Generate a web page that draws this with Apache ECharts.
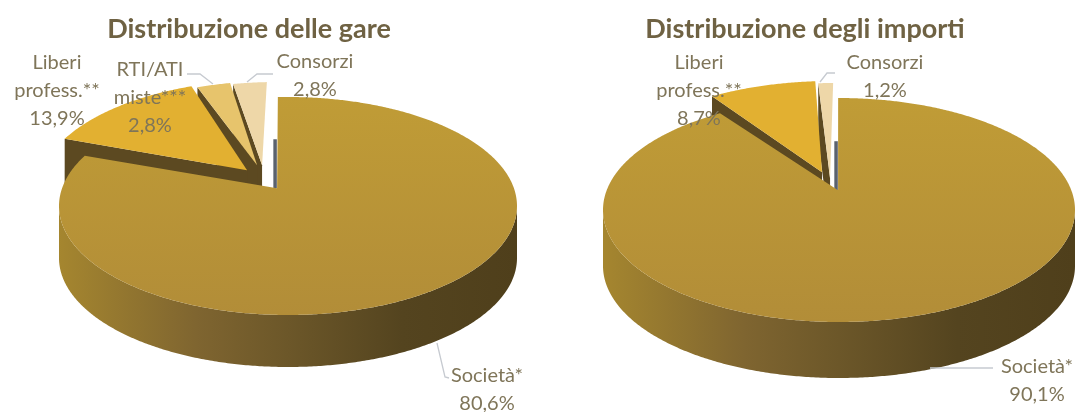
<!DOCTYPE html>
<html><head><meta charset="utf-8">
<style>html,body{margin:0;padding:0;background:#fff;overflow:hidden}#c{width:1077px;height:412px;filter:blur(0.6px)}</style>
<script src="https://cdn.jsdelivr.net/npm/echarts@6/dist/echarts.min.js"></script>
</head><body><div id="c"></div>
<script>
// ---- data ----
const titles = ['Distribuzione delle gare', 'Distribuzione degli importi'];
const categoriesGare = ['Società*', 'Liberi\nprofess.**', 'RTI/ATI\nmiste***', 'Consorzi'];
const valuesGare = [80.6, 13.9, 2.8, 2.8];
const categoriesImporti = ['Società*', 'Liberi\nprofess.**', 'Consorzi'];
const valuesImporti = [90.1, 8.7, 1.2];

// ---- layout and style ----
const fontFamily = 'Lato, "Open Sans", sans-serif';
const textColor = '#7f7559', titleColor = '#6f6243', leaderColor = '#c6cad0';
const wallColor = '#5c4921', notchColor = '#5a626e';
const rimFill = {type:'linear',x:0,y:0,x2:1,y2:0,colorStops:[
  {offset:0,color:'#a5862f'},{offset:.3,color:'#7f6530'},{offset:.5,color:'#6c5729'},
  {offset:.75,color:'#54441f'},{offset:1,color:'#4f3f1b'}]};
const mainFill = {type:'linear',x:0,y:0,x2:0,y2:1,colorStops:[
  {offset:0,color:'#c09c36'},{offset:1,color:'#b28d38'}]};
const pieGare = {
  cx:288, cy:206, rx:229, ry:109, depth:52, tilt:[-0.024,0.082],
  fills:[mainFill,'#e2b031','#e7c46c','#eed7a8'],
  arcShift:[[0,0],[-20,-17],[-14,-16],[-11,-15]],
  apexShift:[[0,0],[-30,-18],[-20,-23],[-15,-23]],
  labels:[[487,390],[57,91],[150,98],[315,76]],
  leaders:[[[437,343],[445,377],[449,378]],null,[[187,74],[200,74],[213,84]],[[273,74],[257,74],[247,82]]],
  names:categoriesGare, values:valuesGare
};
const pieImporti = {
  cx:839, cy:210, rx:236, ry:112, depth:56, tilt:[-0.002,0.089],
  fills:[mainFill,'#e2b031','#eed7a8'],
  arcShift:[[0,0],[-8,-17],[-5,-15]],
  apexShift:[[0,0],[-16,-18],[-8,-12]],
  labels:[[1037,381],[699,91],[885,77]],
  leaders:[[[930,368],[993,368]],null,[[835,73],[827,73],[820,82]]],
  names:categoriesImporti, values:valuesImporti
};

function cmul(a,b){return [a[0]*b[0]-a[1]*b[1],a[0]*b[1]+a[1]*b[0]];}
function cdiv(a,b){const d=b[0]*b[0]+b[1]*b[1];return [(a[0]*b[0]+a[1]*b[1])/d,(a[1]*b[0]-a[0]*b[1])/d];}
// a clockwise-from-top pie angle -> point on the tilted ellipse
function rimPoint(p,deg){
  const t=deg*Math.PI/180, z=[Math.sin(t),Math.cos(t)], a=p.tilt;
  const q=cmul([a[0],-a[1]],z);
  const w=cdiv([z[0]+a[0],z[1]+a[1]],[1+q[0],q[1]]);
  return [p.cx+p.rx*w[0], p.cy-p.ry*w[1]];
}
function centre(p){
  const a=p.tilt, d=1+a[0]*a[0]+a[1]*a[1];
  return [p.cx+p.rx*2*a[0]/d, p.cy-p.ry*2*a[1]/d];
}
function pieSeries(p){
  const total=p.values.reduce((s,v)=>s+v,0);
  return {
    type:'custom', coordinateSystem:'none', silent:true,
    data:p.values.map((v,i)=>({name:p.names[i],value:[v]})),
    renderItem(params,api){
      const i=params.dataIndex, value=api.value(0);
      const before=p.values.slice(0,i).reduce((s,v)=>s+v,0);
      const a0=before/total*360, a1=(before+value)/total*360;
      const as=p.arcShift[i], ps=p.apexShift[i], c=centre(p);
      const apex=[c[0]+ps[0],c[1]+ps[1]];
      const arc=[];
      for(let d=a0;d<a1;d+=0.5){const r=rimPoint(p,d);arc.push([r[0]+as[0],r[1]+as[1]]);}
      {const r=rimPoint(p,a1);arc.push([r[0]+as[0],r[1]+as[1]]);}
      const base=(4-i)*10, children=[];
      // front-facing outer rim
      const front=arc.filter(q=>q[1]>=p.cy+as[1]);
      if(front.length>1){
        const low=front.map(q=>[q[0],q[1]+p.depth]).reverse();
        children.push({type:'polygon',z2:base,shape:{points:front.concat(low)},style:{fill:rimFill}});
      }
      // cut wall of an exploded slice
      if(i>0){
        const s=arc[0];
        children.push({type:'polygon',z2:base,shape:{points:[apex,s,[s[0],s[1]+p.depth],[apex[0],apex[1]+p.depth]]},style:{fill:wallColor}});
      } else {
        children.push({type:'line',z2:base,shape:{x1:apex[0]-2,y1:apex[1],x2:apex[0]-2,y2:apex[1]-49},style:{stroke:notchColor,lineWidth:3.5}});
      }
      children.push({type:'polygon',z2:base+1,shape:{points:[apex].concat(arc)},style:{fill:p.fills[i]}});
      // leader and label
      if(p.leaders[i]) children.push({type:'polyline',z2:100,shape:{points:p.leaders[i]},style:{stroke:leaderColor,lineWidth:1.3,fill:'none'}});
      children.push({type:'text',z2:101,style:{
        text:p.names[i]+'\n'+value.toFixed(1).replace('.',',')+'%',
        x:p.labels[i][0],y:p.labels[i][1],align:'center',verticalAlign:'middle',
        fill:textColor,font:'20px '+fontFamily,lineHeight:28}});
      return {type:'group',children};
    }
  };
}
const chart=echarts.init(document.getElementById('c'),null,{renderer:'canvas'});
chart.setOption({
  backgroundColor:'#fff', animation:false,
  title:[
    {text:titles[0],left:244,top:11,textAlign:'center',textStyle:{color:titleColor,fontFamily,fontWeight:'bold',fontSize:27}},
    {text:titles[1],left:800,top:11,textAlign:'center',textStyle:{color:titleColor,fontFamily,fontWeight:'bold',fontSize:27}}
  ],
  series:[pieSeries(pieGare),pieSeries(pieImporti)]
});
</script></body></html>
